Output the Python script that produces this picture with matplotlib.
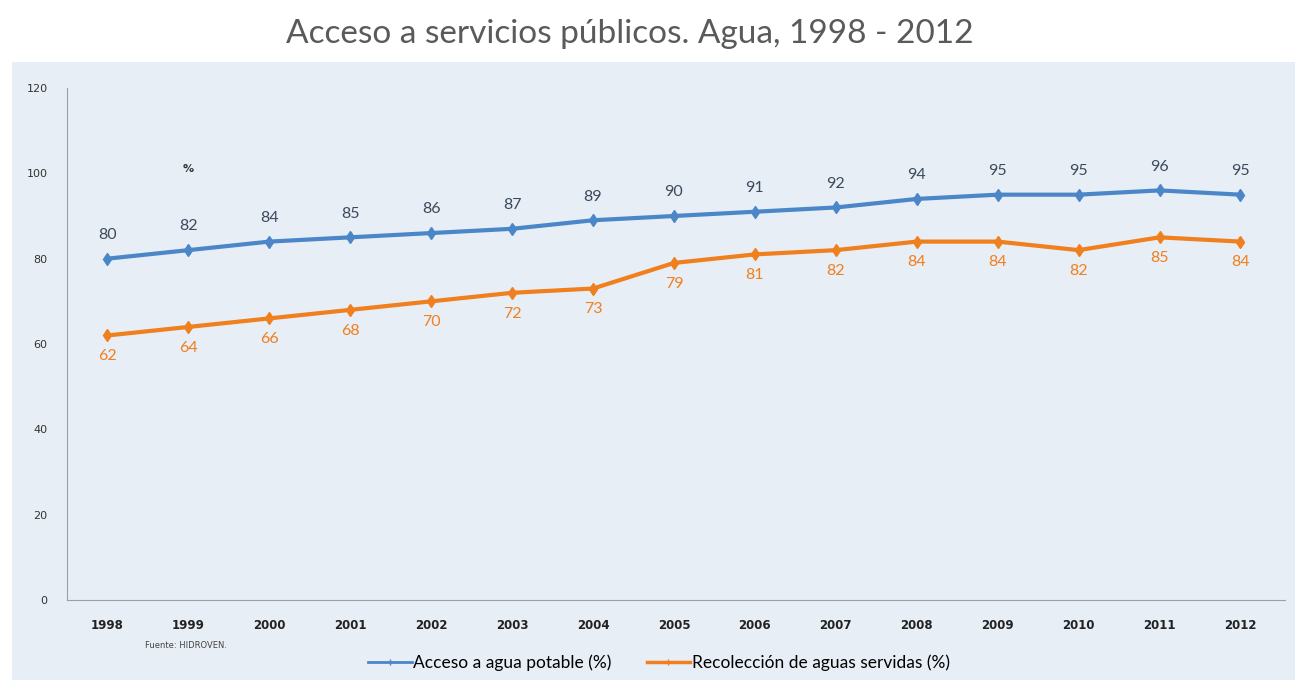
import matplotlib
matplotlib.use('Agg')
import matplotlib.pyplot as plt
from matplotlib.patches import Rectangle
from matplotlib.lines import Line2D

years = [1998, 1999, 2000, 2001, 2002, 2003, 2004, 2005, 2006, 2007, 2008, 2009, 2010, 2011, 2012]
agua_potable = [80, 82, 84, 85, 86, 87, 89, 90, 91, 92, 94, 95, 95, 96, 95]
aguas_servidas = [62, 64, 66, 68, 70, 72, 73, 79, 81, 82, 84, 84, 82, 85, 84]
y_ticks = [0, 20, 40, 60, 80, 100, 120]

blue = '#4a86c8'
orange = '#f07f1e'

fig = plt.figure(figsize=(13.01, 6.89), dpi=100)
fig.set_facecolor('white')

# light panel behind the chart
fig.patches.append(Rectangle((12 / 1301, 9 / 689), 1283 / 1301, 618 / 689,
                             transform=fig.transFigure, facecolor='#e8eef5',
                             edgecolor='none', zorder=-10))

fig.text(0.484, 0.951, 'Acceso a servicios públicos. Agua, 1998 - 2012',
         ha='center', va='center', fontsize=24, color='#5a5a5a', family='Lato')

ax = fig.add_axes([67 / 1301, 89 / 689, 1218 / 1301, 512 / 689])
ax.set_facecolor('none')

ax.plot(years, agua_potable, color=blue, lw=3, marker='d', ms=6)
ax.plot(years, aguas_servidas, color=orange, lw=3, marker='d', ms=6)

for x, v in zip(years, agua_potable):
    ax.annotate(str(v), (x, v), xytext=(0, 12), textcoords='offset points',
                ha='center', va='bottom', fontsize=11.5, color='#3b4a5c', family='Lato')
for x, v in zip(years, aguas_servidas):
    ax.annotate(str(v), (x, v), xytext=(0, -10), textcoords='offset points',
                ha='center', va='top', fontsize=11.5, color=orange, family='Lato')

ax.text(1999, 101, '%', ha='center', va='center', fontsize=8, fontweight='bold', color='#333333')

ax.set_xlim(1997.5, 2012.55)
ax.set_ylim(0, 120)
ax.set_xticks(years)
ax.set_yticks(y_ticks)
ax.tick_params(axis='x', length=0, pad=14, labelsize=8.5, colors='#222222')
ax.tick_params(axis='y', length=0, pad=14, labelsize=8, colors='#333333')
for lab in ax.get_xticklabels():
    lab.set_fontweight('bold')

for s in ['top', 'right']:
    ax.spines[s].set_visible(False)
ax.spines['left'].set_color('#9aa0a8')
ax.spines['bottom'].set_color('#9aa0a8')

fig.text(145 / 1301, 1 - 645 / 689, 'Fuente: HIDROVEN.', fontsize=6, color='#444444', va='center')

handles = [Line2D([], [], color=blue, lw=2, marker='|', ms=5),
           Line2D([], [], color=orange, lw=2.5, marker='|', ms=5)]
fig.legend(handles, ['Acceso a agua potable (%)', 'Recolección de aguas servidas (%)'],
           loc='center', bbox_to_anchor=(659 / 1301, 1 - 663 / 689), ncol=2, frameon=False,
           prop={'family': 'Lato', 'size': 12.5}, handlelength=2.5, handletextpad=0.1,
           columnspacing=2)

plt.savefig('out.png', dpi=100)
